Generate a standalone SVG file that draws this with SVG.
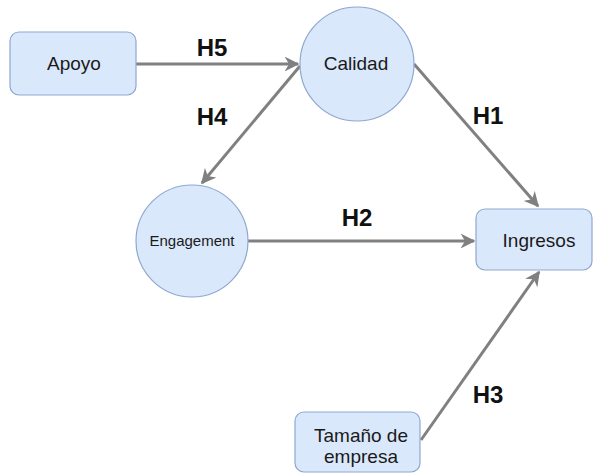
<svg xmlns="http://www.w3.org/2000/svg" width="594" height="474" viewBox="0 0 594 474">
<defs>
<style>
.node{fill:#dae8fc;stroke:#8fa7cf;stroke-width:1.2}
.t{font-family:"Liberation Sans",Arial,sans-serif;fill:#1a1a1a;text-anchor:middle;font-size:19px}
.small{font-size:15px}
.lbl{font-family:"Liberation Sans",Arial,sans-serif;font-weight:bold;font-size:24px;fill:#111;text-anchor:middle}
.edge{stroke:#808080;stroke-width:3;fill:none;marker-end:url(#ah)}
</style>
<marker id="ah" viewBox="0 0 10 10" refX="9" refY="5" markerWidth="5" markerHeight="5" orient="auto" markerUnits="strokeWidth">
<path d="M0,0 L10,5 L0,10 L3,5 Z" fill="#808080"/>
</marker>
</defs>
<rect width="594" height="474" fill="#ffffff"/>
<g id="connectors">
<line class="edge" x1="136" y1="64" x2="298" y2="64"/>
<line class="edge" x1="300" y1="66" x2="202" y2="183"/>
<line class="edge" x1="414" y1="64" x2="538" y2="206"/>
<line class="edge" x1="248" y1="241" x2="474" y2="241"/>
<line class="edge" x1="421" y1="440" x2="539" y2="272"/>
</g>
<g id="labels">
<text class="lbl" x="212" y="56">H5</text>
<text class="lbl" x="212" y="125">H4</text>
<text class="lbl" x="488" y="124">H1</text>
<text class="lbl" x="357" y="226">H2</text>
<text class="lbl" x="488" y="403">H3</text>
</g>
<g id="apoyo">
<rect class="node" x="10" y="32" width="126" height="63" rx="9"/>
<text class="t" x="74" y="70">Apoyo</text>
</g>
<g id="calidad">
<circle class="node" cx="357" cy="64" r="57"/>
<text class="t" x="356" y="70">Calidad</text>
</g>
<g id="engagement">
<circle class="node" cx="192" cy="241" r="56"/>
<text class="t small" x="192" y="246">Engagement</text>
</g>
<g id="ingresos">
<rect class="node" x="476" y="209" width="116" height="61" rx="9"/>
<text class="t" x="539" y="247">Ingresos</text>
</g>
<g id="tamano">
<rect class="node" x="295" y="412" width="125" height="60" rx="9"/>
<text class="t" x="361" y="442">Tamaño de</text>
<text class="t" x="361" y="463">empresa</text>
</g>
</svg>
